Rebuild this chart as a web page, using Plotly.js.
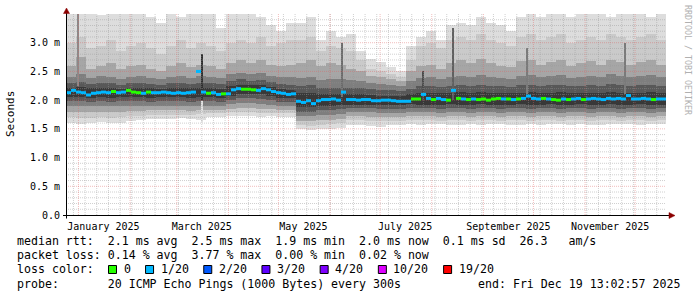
<!DOCTYPE html>
<html>
<head>
<meta charset="utf-8">
<script src="https://cdn.plot.ly/plotly-3.0.1.min.js"></script>
<style>
html,body{margin:0;padding:0;background:#ffffff;}
#chart{width:697px;height:297px;}
</style>
</head>
<body>
<div id="chart"></div>
<script>
// ---------------- DATA ----------------
const endTime = '2025-12-19T13:02:57';
const spanDays = 360;
const smokeStepDays = 6;     // one smoke column per 6 days (60 columns)
const medianStepDays = 3;    // one median piece per 3 days (120 pieces)

// x-axis labels (placed mid-month, like rrdtool)
const monthLabelDates = ['2025-01-16','2025-03-16','2025-05-16','2025-07-16','2025-09-16','2025-11-16'];
const monthLabels = ['January 2025','March 2025','May 2025','July 2025','September 2025','November 2025'];

// y-axis ticks
const yTickValues = [0, 0.5, 1.0, 1.5, 2.0, 2.5, 3.0];
const yTickLabels = ['0.0','0.5 m','1.0 m','1.5 m','2.0 m','2.5 m','3.0 m'];

// median rtt (ms), 120 pieces of 3 days
const medianRtt = [
 2.13,2.17,2.14,2.13,2.09,2.12,2.13,2.14,2.13,2.15,
 2.13,2.14,2.17,2.14,2.13,2.12,2.14,2.13,2.13,2.14,
 2.13,2.12,2.13,2.12,2.13,2.14,2.50,2.14,2.12,2.13,
 2.10,2.11,2.11,2.18,2.20,2.19,2.19,2.18,2.17,2.20,
 2.18,2.15,2.13,2.12,2.10,2.11,1.98,1.96,1.99,1.94,
 1.99,2.01,2.01,2.02,2.00,2.14,2.01,2.01,2.00,2.01,
 2.01,1.99,1.99,2.00,2.00,1.99,1.98,1.98,1.98,2.02,
 2.02,2.10,2.03,2.01,2.03,2.01,2.00,2.17,2.03,2.02,
 2.01,2.02,2.01,2.02,2.00,2.02,2.03,2.02,2.02,2.01,
 2.02,2.03,2.07,2.03,2.02,2.03,2.02,2.01,2.00,2.02,
 2.01,2.02,2.03,2.01,2.02,2.03,2.02,2.01,2.03,2.02,
 2.03,2.02,2.08,2.02,2.02,2.03,2.02,2.01,2.02,2.02
];
// lost pings out of 20 for each median piece
const lossCount = [
 1,1,1,1,1,1,1,1,1,0,
 1,1,0,0,0,1,0,1,1,1,
 1,1,1,1,1,1,1,1,0,1,
 1,0,1,1,1,0,0,0,1,1,
 1,1,1,1,1,1,1,1,1,1,
 1,1,1,1,1,1,1,1,1,1,
 1,1,1,1,1,1,1,1,1,0,
 0,1,1,0,1,1,0,1,0,1,
 0,1,0,0,0,0,0,1,0,1,
 0,1,1,1,1,0,1,0,0,1,
 0,1,1,0,1,1,1,1,1,1,
 1,1,1,1,1,1,1,0,1,1
];

// smoke: sorted ping levels per 6-day column (outer pair 1 ... inner pair 6)
const smokeHi1 = [
 3.6,3.6,3.6,3.48,3.6,3.6,3.6,3.6,3.45,3.34,
 3.6,3.45,3.6,3.6,3.6,3.25,3.6,3.6,3.6,3.45,
 3.3,3.2,3.35,3.35,3.45,3.05,3.2,3.1,3.15,2.85,
 2.72,2.66,2.58,2.5,2.95,3.1,3.2,3.05,3.3,3.35,
 3.3,3.45,3.35,3.3,3.2,3.45,3.6,3.45,3.6,3.6,
 3.45,3.6,3.6,3.6,3.45,3.6,3.6,3.6,3.45,3.6
];
const smokeHi2 = [
 3.00,3.10,2.90,2.95,3.05,2.85,2.95,3.00,2.90,2.80,
 2.95,3.05,2.90,3.00,2.95,2.85,3.00,3.05,3.00,3.10,
 2.95,3.00,3.05,3.05,3.10,2.85,2.95,2.90,2.85,2.70,
 2.55,2.50,2.45,2.40,2.70,2.95,3.00,2.90,3.05,3.10,
 3.05,3.15,3.05,3.00,2.95,3.10,3.15,3.05,3.10,3.15,
 3.00,3.05,3.10,3.05,3.15,3.10,3.05,3.10,3.15,3.05
];
const smokeHi3 = [
 2.60,2.75,2.55,2.60,2.65,2.55,2.60,2.62,2.55,2.50,
 2.60,2.65,2.58,2.62,2.60,2.55,2.65,2.70,2.65,2.70,
 2.62,2.60,2.62,2.65,2.70,2.60,2.65,2.62,2.55,2.50,
 2.42,2.40,2.36,2.33,2.50,2.60,2.62,2.55,2.65,2.70,
 2.65,2.72,2.65,2.60,2.58,2.68,2.70,2.62,2.66,2.70,
 2.60,2.64,2.68,2.62,2.70,2.66,2.62,2.66,2.70,2.62
];
const smokeHi4 = [
 2.40,2.45,2.38,2.42,2.40,2.36,2.40,2.42,2.38,2.36,
 2.40,2.42,2.38,2.42,2.40,2.38,2.45,2.48,2.45,2.48,
 2.42,2.40,2.40,2.38,2.40,2.35,2.36,2.36,2.35,2.33,
 2.30,2.28,2.26,2.24,2.33,2.38,2.40,2.36,2.40,2.42,
 2.40,2.44,2.40,2.38,2.36,2.42,2.44,2.40,2.42,2.44,
 2.38,2.40,2.42,2.40,2.45,2.42,2.40,2.42,2.44,2.40
];
const smokeHi5 = [
 2.30,2.32,2.28,2.30,2.29,2.27,2.29,2.30,2.28,2.27,
 2.29,2.30,2.28,2.30,2.29,2.28,2.33,2.36,2.34,2.35,
 2.31,2.28,2.27,2.25,2.26,2.22,2.22,2.22,2.22,2.21,
 2.19,2.18,2.17,2.16,2.20,2.24,2.25,2.23,2.25,2.26,
 2.25,2.27,2.25,2.24,2.23,2.26,2.27,2.25,2.26,2.27,
 2.24,2.25,2.26,2.25,2.28,2.26,2.25,2.26,2.27,2.25
];
const smokeHi6 = [
 2.22,2.23,2.21,2.22,2.21,2.20,2.21,2.22,2.21,2.20,
 2.21,2.22,2.21,2.22,2.21,2.20,2.25,2.27,2.26,2.27,
 2.23,2.20,2.18,2.12,2.13,2.10,2.10,2.10,2.10,2.10,
 2.09,2.08,2.08,2.07,2.10,2.13,2.13,2.12,2.13,2.14,
 2.13,2.14,2.13,2.13,2.12,2.13,2.14,2.13,2.13,2.14,
 2.12,2.13,2.13,2.13,2.15,2.13,2.13,2.13,2.14,2.13
];
const smokeLo6 = [
 2.05,2.05,2.04,2.05,2.04,2.05,2.05,2.05,2.04,2.05,
 2.05,2.05,2.04,2.05,2.05,2.04,2.08,2.10,2.10,2.10,
 2.07,2.04,2.03,1.88,1.88,1.90,1.90,1.91,1.92,1.92,
 1.92,1.91,1.91,1.91,1.93,1.92,1.92,1.92,1.93,1.92,
 1.92,1.93,1.92,1.92,1.92,1.93,1.92,1.92,1.93,1.92,
 1.92,1.93,1.92,1.92,1.93,1.92,1.92,1.93,1.92,1.92
];
const smokeLo5 = [
 1.98,1.98,1.97,1.98,1.97,1.98,1.98,1.98,1.97,1.98,
 1.98,1.98,1.97,1.98,1.98,1.97,2.01,2.03,2.03,2.02,
 2.00,1.97,1.96,1.80,1.80,1.82,1.83,1.84,1.86,1.86,
 1.86,1.85,1.85,1.85,1.87,1.86,1.86,1.85,1.86,1.86,
 1.85,1.86,1.86,1.85,1.86,1.86,1.85,1.86,1.86,1.85,
 1.86,1.86,1.85,1.86,1.86,1.85,1.86,1.86,1.85,1.86
];
const smokeLo4 = [
 1.90,1.89,1.89,1.90,1.89,1.90,1.90,1.90,1.89,1.90,
 1.90,1.90,1.89,1.90,1.90,1.89,1.93,1.95,1.95,1.94,
 1.92,1.90,1.89,1.72,1.72,1.74,1.75,1.76,1.79,1.79,
 1.79,1.78,1.78,1.78,1.80,1.79,1.79,1.78,1.79,1.79,
 1.78,1.79,1.79,1.78,1.79,1.79,1.78,1.79,1.79,1.78,
 1.79,1.79,1.78,1.79,1.79,1.78,1.79,1.79,1.78,1.79
];
const smokeLo3 = [
 1.80,1.79,1.79,1.80,1.79,1.80,1.81,1.81,1.82,1.82,
 1.82,1.82,1.81,1.82,1.83,1.83,1.85,1.86,1.86,1.85,
 1.84,1.83,1.82,1.64,1.63,1.65,1.66,1.68,1.72,1.72,
 1.71,1.71,1.70,1.71,1.73,1.72,1.72,1.71,1.72,1.72,
 1.71,1.72,1.72,1.71,1.72,1.72,1.71,1.72,1.72,1.71,
 1.72,1.72,1.71,1.72,1.72,1.71,1.72,1.72,1.71,1.72
];
const smokeLo2 = [
 1.70,1.69,1.69,1.70,1.69,1.70,1.72,1.73,1.75,1.75,
 1.75,1.75,1.74,1.76,1.77,1.77,1.79,1.79,1.79,1.78,
 1.78,1.77,1.77,1.57,1.55,1.57,1.58,1.60,1.65,1.65,
 1.64,1.64,1.63,1.64,1.66,1.65,1.65,1.64,1.65,1.65,
 1.64,1.65,1.65,1.64,1.65,1.65,1.64,1.65,1.65,1.64,
 1.65,1.65,1.64,1.65,1.65,1.64,1.65,1.65,1.64,1.65
];
const smokeLo1 = [
 1.60,1.59,1.60,1.62,1.60,1.61,1.64,1.65,1.67,1.68,
 1.67,1.69,1.68,1.66,1.70,1.71,1.72,1.73,1.72,1.71,
 1.72,1.70,1.70,1.50,1.48,1.49,1.50,1.52,1.56,1.57,
 1.55,1.54,1.56,1.57,1.58,1.57,1.59,1.58,1.56,1.57,
 1.58,1.57,1.59,1.58,1.57,1.56,1.58,1.57,1.58,1.59,
 1.57,1.58,1.56,1.57,1.58,1.59,1.58,1.57,1.58,1.59
];

// narrow streaks (single-sample spikes) visible in the smoke
const spikeDates = ['2024-12-31T18:00','2025-03-15T22:00','2025-03-15T22:00','2025-06-08T00:00','2025-07-27T00:00','2025-08-14T00:00','2025-09-27T00:00','2025-11-25T00:00'];
const spikeLo    = [2.25, 2.00, 1.62, 2.05, 2.00, 2.00, 2.10, 2.10];
const spikeHi    = [3.60, 2.80, 1.98, 3.00, 2.50, 3.25, 2.90, 3.00];
const spikeShade = ['#8a8a8a','#2e2e2e','#e4e4e4','#6a6a6a','#4a4a4a','#606060','#7a7a7a','#7a7a7a'];

// legend text
const lossLabels = ['0','1/20','2/20','3/20','4/20','10/20','19/20'];
const lossCounts = [0, 1, 2, 3, 4, 10, 19];
const lossColors = ['#26ff00','#00b8ff','#0059ff','#5e00ff','#7e00ff','#dd00ff','#ff0000'];
const legendMedian = 'median rtt:  2.1 ms avg  2.5 ms max  1.9 ms min  2.0 ms now  0.1 ms sd  26.3   am/s';
const legendLoss   = 'packet loss: 0.14 % avg  3.77 % max  0.00 % min  0.02 % now';
const legendColor  = 'loss color:';
const legendProbe  = 'probe:       20 ICMP Echo Pings (1000 Bytes) every 300s';
const legendEnd    = 'end: Fri Dec 19 13:02:57 2025';
const yTitle = 'Seconds';
const watermark = 'RRDTOOL / TOBI OETIKER';

// ---------------- BUILD ----------------
const DAY = 86400000;
const endMs = Date.parse(endTime + 'Z');
const startMs = endMs - spanDays * DAY;
const MONO = 'DejaVu Sans Mono';

// plot area in pixels (for legend / decoration placement)
const PL = 66, PW = 600, PT = 14, PH = 201;
const px = x => (x - PL) / PW;
const py = y => (PT + PH - y) / PH;
const nb = s => s.replace(/ /g, '\u00a0');

const traces = [];

// smoke bands, outer first
const smokeX = smokeHi1.map((_, k) => startMs + (k + 0.5) * smokeStepDays * DAY);
const bandPairs = [
  [smokeLo1, smokeHi1, '#dddddd'],
  [smokeLo2, smokeHi2, '#cacaca'],
  [smokeLo3, smokeHi3, '#a6a6a6'],
  [smokeLo4, smokeHi4, '#7e7e7e'],
  [smokeLo5, smokeHi5, '#585858'],
  [smokeLo6, smokeHi6, '#383838']
];
bandPairs.forEach(([lo, hi, col]) => {
  traces.push({
    type: 'bar', x: smokeX, base: lo, y: hi.map((h, i) => h - lo[i]),
    width: smokeStepDays * DAY, marker: {color: col, opacity: 1, line: {width: 0}},
    hoverinfo: 'skip'
  });
});
// spikes
traces.push({
  type: 'bar', x: spikeDates.map(d => Date.parse(d + 'Z')), base: spikeLo,
  y: spikeHi.map((h, i) => h - spikeLo[i]), width: 1.2 * DAY,
  marker: {color: spikeShade, opacity: 1, line: {width: 0}}, hoverinfo: 'skip'
});

// grid (drawn over the smoke, like rrdtool)
function hLines(vals) {
  const x = [], y = [];
  vals.forEach(v => { x.push(startMs, endMs, null); y.push(v, v, null); });
  return {x, y};
}
function vLines(times) {
  const x = [], y = [];
  times.forEach(t => { x.push(t, t, null); y.push(0, 3.5, null); });
  return {x, y};
}
const minorVals = [], majorVals = [];
for (let i = 1; i <= 34; i++) { (i % 5 === 0 ? majorVals : minorVals).push(i / 10); }
const sundays = [];
for (let t = Date.UTC(2024, 11, 29); t < endMs; t += 7 * DAY) sundays.push(t);
const monthStarts = [];
for (let m = 0; m < 12; m++) monthStarts.push(Date.UTC(2025, m, 1));
const minorStyle = {color: 'rgba(150,150,150,0.45)', width: 1, dash: '1px,1px'};
const majorStyle = {color: 'rgba(225,100,100,0.42)', width: 1, dash: '1px,1px'};
[[hLines(minorVals), minorStyle], [vLines(sundays), minorStyle],
 [hLines(majorVals), majorStyle], [vLines(monthStarts), majorStyle]].forEach(([g, st]) => {
  traces.push({type: 'scatter', mode: 'lines', x: g.x, y: g.y, line: st, hoverinfo: 'skip', connectgaps: false});
});

// median pieces, coloured by loss
lossCounts.forEach((cnt, ci) => {
  const x = [], y = [];
  medianRtt.forEach((m, j) => {
    if (lossCount[j] === cnt) {
      const t0 = startMs + j * medianStepDays * DAY;
      x.push(t0, t0 + medianStepDays * DAY, null);
      y.push(m, m, null);
    }
  });
  if (x.length) traces.push({type: 'scatter', mode: 'lines', x, y,
    line: {color: lossColors[ci], width: 3}, hoverinfo: 'skip'});
});

// shapes: axes, arrows, legend boxes
const shapes = [];
shapes.push({type: 'line', xref: 'paper', yref: 'paper', x0: px(63), x1: px(669), y0: py(215.5), y1: py(215.5), line: {color: '#000', width: 1}, layer: 'above'});
shapes.push({type: 'line', xref: 'paper', yref: 'paper', x0: px(66.5), x1: px(66.5), y0: py(218.5), y1: py(12), line: {color: '#000', width: 1}, layer: 'above'});
shapes.push({type: 'path', xref: 'paper', yref: 'paper', layer: 'above',
  path: `M ${px(669)} ${py(212.5)} L ${px(675)} ${py(215.5)} L ${px(669)} ${py(218.5)} Z`,
  fillcolor: '#8b0000', line: {color: '#8b0000', width: 0.5}});
shapes.push({type: 'path', xref: 'paper', yref: 'paper', layer: 'above',
  path: `M ${px(63.5)} ${py(13.5)} L ${px(66.5)} ${py(8)} L ${px(69.5)} ${py(13.5)} Z`,
  fillcolor: '#8b0000', line: {color: '#8b0000', width: 0.5}});

const annotations = [];
const legFont = {family: MONO, size: 11.6, color: '#000'};
function textAt(text, x, y, anchor) {
  annotations.push({text: nb(text), xref: 'paper', yref: 'paper', x: px(x), y: py(y),
    xanchor: anchor || 'left', yanchor: 'middle', showarrow: false, font: legFont, borderpad: 0});
}
textAt(legendMedian, 16, 240.5);
textAt(legendLoss, 16, 254.8);
textAt(legendColor, 16, 269);
textAt(legendProbe, 16, 283.6);
textAt(legendEnd, 681, 283.6, 'right');

let pos = 108;
lossLabels.forEach((lab, i) => {
  shapes.push({type: 'rect', xref: 'paper', yref: 'paper', layer: 'above',
    x0: px(pos + 0.5), x1: px(pos + 8.5), y0: py(273.5), y1: py(265.5),
    fillcolor: lossColors[i], line: {color: '#000', width: 1}});
  textAt(lab, pos + 14.5, 269);
  pos += 14.5 + lab.length * 7.05 + 15.5;
});

annotations.push({text: yTitle, xref: 'paper', yref: 'paper', x: px(11), y: py(114),
  xanchor: 'center', yanchor: 'middle', textangle: -90, showarrow: false,
  font: {family: MONO, size: 11, color: '#000'}});
annotations.push({text: nb(watermark), xref: 'paper', yref: 'paper', x: px(688), y: py(60),
  xanchor: 'center', yanchor: 'middle', textangle: 90, showarrow: false,
  font: {family: MONO, size: 8.3, color: '#b0b0b0'}});

const layout = {
  width: 697, height: 297,
  margin: {l: PL, r: 697 - PL - PW, t: PT, b: 297 - PT - PH, pad: 0},
  paper_bgcolor: '#ffffff', plot_bgcolor: '#ffffff',
  showlegend: false, barmode: 'overlay', bargap: 0,
  xaxis: {
    type: 'date', range: [startMs, endMs], tickmode: 'array',
    tickvals: monthLabelDates.map(d => Date.parse(d + 'T00:00:00Z')), ticktext: monthLabels,
    showgrid: false, zeroline: false, showline: false,
    ticks: 'outside', ticklen: 2, tickcolor: 'rgba(0,0,0,0)',
    tickfont: {family: MONO, size: 10, color: '#000'}, fixedrange: true
  },
  yaxis: {
    range: [0, 3.5], tickmode: 'array', tickvals: yTickValues, ticktext: yTickLabels,
    showgrid: false, zeroline: false, showline: false,
    ticks: 'outside', ticklen: 3, tickcolor: 'rgba(0,0,0,0)',
    tickfont: {family: MONO, size: 10, color: '#000'}, fixedrange: true
  },
  shapes, annotations
};

Plotly.newPlot('chart', traces, layout, {staticPlot: true, displayModeBar: false});
</script>
</body>
</html>
